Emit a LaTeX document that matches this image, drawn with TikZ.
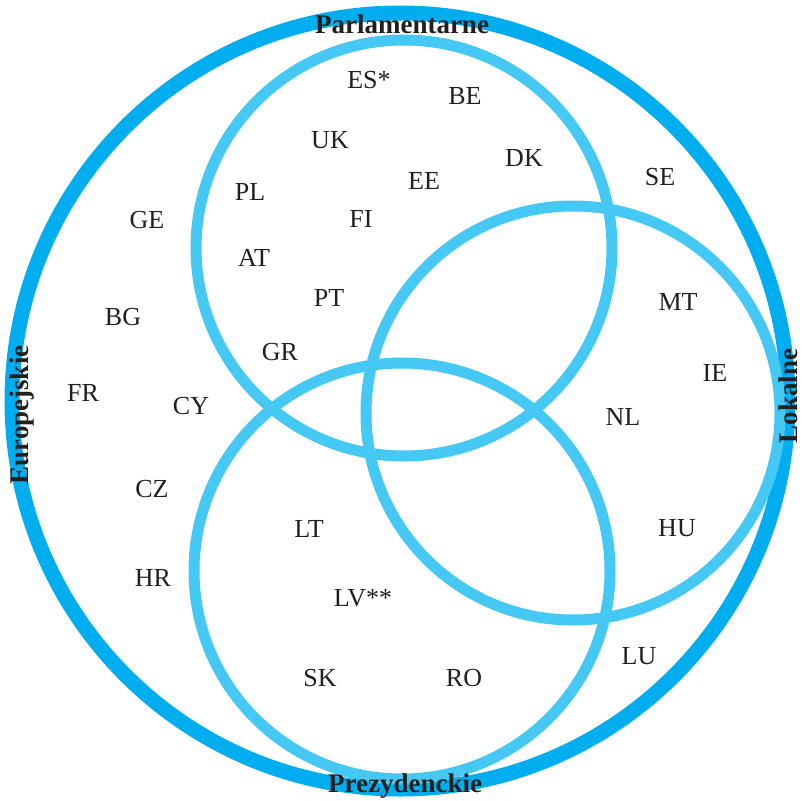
\documentclass[tikz,border=0pt]{standalone}
\usepackage{fontspec}
\setmainfont{Liberation Serif}
\usepackage{xcolor}
\definecolor{ink}{HTML}{231F20}
\definecolor{outercol}{HTML}{00AEEF}
\definecolor{ringcol}{HTML}{45C8F4}

\begin{document}
\begin{tikzpicture}[
  x=1pt, y=-1pt,
  outer/.style={draw=outercol, line width=15pt},
  ring/.style={draw=ringcol, line width=11pt},
  cc/.style={text=ink, font=\fontsize{26}{26}\selectfont, inner sep=0pt},
  setname/.style={text=ink, font=\fontsize{27}{27}\selectfont\bfseries, inner sep=0pt},
]
\useasboundingbox (0,0) rectangle (802,800);
\fill[white] (0,0) rectangle (802,800);
% circles
\coordinate (cO) at (400,401);
\coordinate (cP) at (404,248);
\coordinate (cL) at (573,413);
\coordinate (cZ) at (402,571);
\draw[outer] (cO) circle[radius=388];
\draw[ring] (cP) circle[radius=208];
\draw[ring] (cL) circle[radius=207];
\draw[ring] (cZ) circle[radius=208];
% set names
\node[setname] (parl) at (402,24) {Parlamentarne};
\node[setname] (prez) at (405,786) {Prezydenckie};
\node[setname, rotate=90] (euro) at (22,415) {Europejskie};
\node[setname, rotate=90] (lok) at (788,396) {Lokalne};
% countries
\node[cc] (es) at (369,80) {ES*};
\node[cc] (be) at (465,96) {BE};
\node[cc] (uk) at (330,140) {UK};
\node[cc] (dk) at (524,158) {DK};
\node[cc] (se) at (660,177) {SE};
\node[cc] (ee) at (424,181) {EE};
\node[cc] (pl) at (250,192) {PL};
\node[cc] (ge) at (147,220) {GE};
\node[cc] (fi) at (361,219) {FI};
\node[cc] (at) at (254,258) {AT};
\node[cc] (pt) at (329,298) {PT};
\node[cc] (mt) at (678,302) {MT};
\node[cc] (bg) at (123,317) {BG};
\node[cc] (gr) at (280,352) {GR};
\node[cc] (ie) at (715,373) {IE};
\node[cc] (fr) at (83,393) {FR};
\node[cc] (cy) at (191,406) {CY};
\node[cc] (nl) at (623,417) {NL};
\node[cc] (cz) at (152,489) {CZ};
\node[cc] (lt) at (309,529) {LT};
\node[cc] (hu) at (677,528) {HU};
\node[cc] (hr) at (153,578) {HR};
\node[cc] (lv) at (363,598) {LV**};
\node[cc] (lu) at (639,656) {LU};
\node[cc] (sk) at (320,678) {SK};
\node[cc] (ro) at (464,678) {RO};
\end{tikzpicture}
\end{document}
